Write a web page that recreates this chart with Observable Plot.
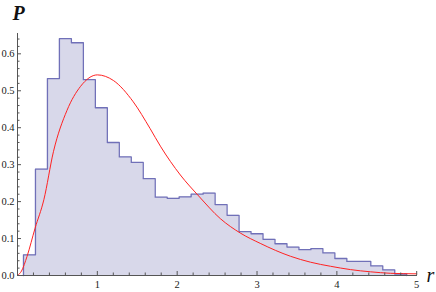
<!DOCTYPE html>
<html><head><meta charset="utf-8">
<script src="https://cdn.jsdelivr.net/npm/d3@7"></script>
<script src="https://cdn.jsdelivr.net/npm/@observablehq/plot@0.6"></script>
<style>body{margin:0;background:#fff} svg text{font-family:"Liberation Serif","DejaVu Serif",serif !important}</style>
</head><body><div id="chart"></div>
<script>
// Histogram bin edges (r) and heights (P)
const binEdges = [0.075,0.225,0.375,0.525,0.675,0.825,0.975,1.125,1.275,1.425,1.575,1.725,1.875,2.025,2.175,2.325,2.475,2.625,2.775,2.925,3.075,3.225,3.375,3.525,3.675,3.825,3.975,4.125,4.275,4.425,4.575,4.725,4.875];
const binHeights = [0.056,0.288,0.533,0.641,0.630,0.530,0.454,0.360,0.321,0.306,0.262,0.212,0.209,0.213,0.220,0.223,0.192,0.163,0.119,0.113,0.098,0.086,0.077,0.070,0.073,0.061,0.046,0.038,0.038,0.026,0.015,0.004];
// Red curve
const curveR = [0,0.05,0.12,0.22,0.33,0.45,0.62,0.79,1.0,1.2,1.45,1.66,1.79,2.04,2.27,2.54,2.79,3.04,3.42,3.67,3.92,4.17,4.42,4.67,5.0];
const curveP = [0,0.012,0.052,0.128,0.205,0.335,0.447,0.512,0.543,0.528,0.470,0.398,0.350,0.272,0.215,0.154,0.115,0.087,0.052,0.036,0.025,0.016,0.010,0.006,0.0045];
// Ticks
const yTickValues = [0,0.1,0.2,0.3,0.4,0.5,0.6];
const yMinorTicks = [0.02,0.04,0.06,0.08,0.12,0.14,0.16,0.18,0.22,0.24,0.26,0.28,0.32,0.34,0.36,0.38,0.42,0.44,0.46,0.48,0.52,0.54,0.56,0.58,0.62,0.64];
const xTickValues = [1,2,3,4,5];
const xMinorTicks = [0.2,0.4,0.6,0.8,1.2,1.4,1.6,1.8,2.2,2.4,2.6,2.8,3.2,3.4,3.6,3.8,4.2,4.4,4.6,4.8];
const yLabel = ["P"];
const xLabel = ["r"];

const steps = [{r: binEdges[0], p: 0}]
  .concat(binHeights.map((h, i) => ({r: binEdges[i], p: h})))
  .concat([{r: binEdges[binHeights.length], p: 0}]);
const curvePts = curveR.map((r, i) => ({r, p: curveP[i]}));

const serif = "Liberation Serif";
const axisColor = "#555";
const chart = Plot.plot({
  width: 436, height: 292,
  marginLeft: 17, marginRight: 19, marginTop: 33, marginBottom: 17,
  x: {domain: [0, 5.01]},
  y: {domain: [0, 0.655]},
  style: {fontFamily: serif, fontSize: "10.5px", background: "white", color: "#222"},
  marks: [
    Plot.areaY(steps, {x: "r", y: "p", curve: "step-after", fill: "#d8d8ea"}),
    Plot.lineY(steps, {x: "r", y: "p", curve: "step-after", stroke: "#7070b8", strokeWidth: 1.3}),
    Plot.lineY(curvePts, {x: "r", y: "p", curve: "monotone-x", stroke: "#ff2222", strokeWidth: 1}),
    Plot.ruleY([0], {stroke: axisColor}),
    Plot.ruleX([0], {stroke: axisColor}),
    Plot.axisY({ticks: yTickValues, tickSize: 0, tickPadding: 3, tickFormat: d3.format(".1f"), label: null, fontFamily: serif}),
    Plot.axisY({ticks: yTickValues, tickSize: -4, fill: "none", stroke: axisColor, label: null}),
    Plot.axisY({ticks: yMinorTicks, tickSize: -2.5, fill: "none", stroke: axisColor, label: null}),
    Plot.axisX({ticks: xTickValues, tickSize: 0, tickPadding: 5, tickFormat: d3.format("d"), label: null, fontFamily: serif}),
    Plot.axisX({ticks: xTickValues, tickSize: -4, fill: "none", stroke: axisColor, label: null}),
    Plot.axisX({ticks: xMinorTicks, tickSize: -2.5, fill: "none", stroke: axisColor, label: null}),
    Plot.text(yLabel, {text: d => d, frameAnchor: "top-left", textAnchor: "middle", lineAnchor: "bottom", dx: 1, dy: -14, fontSize: 20, fontStyle: "italic", fontWeight: "bold", fontFamily: serif, fill: "#111"}),
    Plot.text(xLabel, {text: d => d, frameAnchor: "bottom-right", textAnchor: "start", lineAnchor: "middle", dx: 9, fontSize: 20, fontStyle: "italic", fontFamily: serif, fill: "#111"})
  ]
});
document.getElementById("chart").appendChild(chart);
</script>
</body></html>
